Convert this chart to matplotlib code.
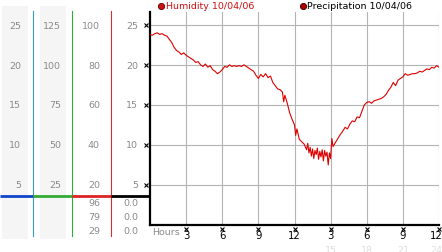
import numpy as np
import matplotlib
matplotlib.use("Agg")
import matplotlib.pyplot as plt

# humidity trace, 10/04/06 (hours since start, value on the 0-25 scale)
hours = [0.0, 0.2, 0.4, 0.6, 0.8, 1.0, 1.2, 1.4, 1.6, 1.8, 2.0, 2.2, 2.4, 2.6, 2.8,
         3.0, 3.2, 3.4, 3.6, 3.8, 4.0, 4.2, 4.4, 4.6, 4.8, 5.0, 5.2, 5.4, 5.6, 5.8,
         6.0, 6.2, 6.4, 6.6, 6.8, 7.0, 7.2, 7.4, 7.6, 7.8, 8.0, 8.2, 8.4, 8.6, 8.8,
         9.0, 9.2, 9.4, 9.6, 9.8, 10.0, 10.2, 10.4, 10.6, 10.8, 11.0, 11.1, 11.2, 11.4,
         11.6, 11.8, 12.0, 12.1, 12.2, 12.4, 12.6, 12.8, 13.0, 13.1, 13.2, 13.3, 13.4,
         13.5, 13.6, 13.7, 13.8, 13.9, 14.0, 14.1, 14.2, 14.3, 14.4, 14.5, 14.6, 14.7,
         14.8, 14.9, 15.0, 15.1, 15.2, 15.4, 15.6, 15.8, 16.0, 16.2, 16.4, 16.6, 16.8,
         17.0, 17.2, 17.4, 17.6, 17.8, 18.0, 18.2, 18.4, 18.6, 18.8, 19.0, 19.2, 19.4,
         19.6, 19.8, 20.0, 20.2, 20.4, 20.6, 20.8, 21.0, 21.2, 21.4, 21.6, 21.8, 22.0,
         22.2, 22.4, 22.6, 22.8, 23.0, 23.2, 23.4, 23.6, 23.8, 24.0]
humidity = [23.8, 23.7, 23.9, 24.0, 23.8, 23.9, 23.7, 23.6, 23.2, 22.8, 22.2, 21.8, 21.6, 21.3, 21.5,
            21.2, 21.0, 20.8, 20.6, 20.3, 20.4, 20.0, 19.8, 20.1, 19.7, 19.9, 19.4, 19.2, 18.9, 19.1,
            19.4, 19.8, 19.7, 20.0, 19.8, 19.9, 19.8, 19.9, 19.8, 20.0, 19.8, 19.6, 19.4, 19.2, 18.7,
            18.3, 18.8, 18.5, 18.9, 18.4, 18.6, 17.8, 17.4, 17.0, 16.9, 16.6, 15.4, 16.2, 15.2,
            14.0, 13.2, 12.5, 11.2, 12.0, 10.7, 10.4, 10.1, 9.4, 10.2, 9.0, 9.7, 8.6,
            9.5, 8.3, 9.3, 8.8, 9.6, 8.2, 9.2, 8.5, 9.4, 8.0, 9.3, 8.6, 9.1,
            7.5, 9.0, 8.3, 10.8, 9.8, 10.3, 10.8, 11.3, 11.7, 12.2, 12.0, 12.6, 13.0,
            12.9, 13.5, 13.4, 14.2, 15.0, 15.3, 15.4, 15.2, 15.5, 15.6, 15.7, 15.8, 16.0,
            16.3, 16.8, 17.2, 17.8, 17.4, 18.1, 18.3, 18.5, 18.9, 18.7, 18.8, 18.9, 18.9,
            19.0, 19.2, 19.1, 19.3, 19.5, 19.4, 19.7, 19.6, 19.9, 19.7]

y_ticks = [5, 10, 15, 20, 25]
col_labels = [["25", "20", "15", "10", "5"],
              ["125", "100", "75", "50", "25"],
              ["100", "80", "60", "40", "20"],
              ["25", "20", "15", "10", "5"]]
col_right = [21, 61, 100, 138]
summary_a = ["96", "79", "29"]
summary_b = ["0.0", "0.0", "0.0"]
x_ticks = [3, 6, 9, 12, 15, 18, 21, 24]
x_labels = ["3", "6", "9", "12", "3", "6", "9", "12"]
x_labels_24 = ["", "", "", "", "15", "18", "21", "24"]

W, H = 442, 253
fig = plt.figure(figsize=(W / 100, H / 100), dpi=100)
fig.patch.set_facecolor("white")

# background layer in pixel coordinates for the side panels
bg = fig.add_axes([0, 0, 1, 1])
bg.set_xlim(0, W)
bg.set_ylim(H, 0)
bg.axis("off")

def ypix(v):
    return 226 - 8.0 * v

bg.axvspan(2, 28, ymin=(H - 240) / H, ymax=(H - 7) / H, color="#f5f5f5", lw=0)
bg.axvspan(40, 66, ymin=(H - 240) / H, ymax=(H - 7) / H, color="#f5f5f5", lw=0)
for xv, c in [(33, "#3399cc"), (72, "#33aa33"), (111, "#cc3333")]:
    bg.plot([xv, xv], [12, 237], color=c, lw=0.8)
for x0, x1, c in [(0, 33, "#1144cc"), (33, 72, "#33aa33"), (72, 111, "#dd2222"), (111, 150, "black")]:
    bg.plot([x0, x1], [197.3, 197.3], color=c, lw=2, solid_capstyle="butt")

fs = 6.8
for labels, xr in zip(col_labels, col_right):
    for v, lab in zip(y_ticks[::-1], labels):
        bg.text(xr, ypix(v), lab, ha="right", va="center", fontsize=fs, color="#8a8a8a")
for i, (a, b) in enumerate(zip(summary_a, summary_b)):
    bg.text(100, 204 + 14 * i, a, ha="right", va="center", fontsize=fs, color="#8a8a8a")
    bg.text(138, 204 + 14 * i, b, ha="right", va="center", fontsize=fs, color="#8a8a8a")

# legend
bg.plot([161], [6.5], "o", ms=4.5, mfc="#cc1111", mec="#660000", mew=0.6)
bg.text(166, 6.5, "Humidity 10/04/06", ha="left", va="center", fontsize=fs, color="#cc1111")
bg.plot([303], [6.5], "o", ms=4.5, mfc="#aa0000", mec="#440000", mew=0.6)
bg.text(307, 6.5, "Precipitation 10/04/06", ha="left", va="center", fontsize=fs, color="black")

# main chart
ax = fig.add_axes([150 / W, (H - 226) / H, 289 / W, 213 / H])
ax.set_xlim(0, 24)
ax.set_ylim(0, 26.6)
ax.set_facecolor("none")
for v in y_ticks:
    ax.axhline(v, color="#b4b4b4", lw=0.8, zorder=1)
for v in x_ticks:
    ax.axvline(v, color="#b4b4b4", lw=0.8, zorder=1)
ax.plot(hours, humidity, color="#dd0000", lw=0.8, zorder=3)
ax.spines["top"].set_visible(False)
ax.spines["right"].set_visible(False)
ax.spines["left"].set_linewidth(1.6)
ax.spines["bottom"].set_linewidth(1.6)
ax.set_xticks([])
ax.set_yticks([])

# tick markers
ax.plot([-0.33] * len(y_ticks), y_ticks, "x", color="black", ms=2.5, mew=0.8, clip_on=False)
ax.plot(x_ticks, [-0.45] * len(x_ticks), "x", color="black", ms=2.5, mew=0.8, clip_on=False)
for xv, lab, lab2 in zip(x_ticks, x_labels, x_labels_24):
    xt = min(xv, 23.75)
    ax.text(xt, -1.3, lab, ha="center", va="center", fontsize=fs + 0.5, color="black", clip_on=False)
    ax.text(xt, -3.0, lab2, ha="center", va="center", fontsize=fs, color="#dddddd", clip_on=False)
ax.text(0.2, -0.75, "Hours", ha="left", va="center", fontsize=fs, color="#8a8a8a", clip_on=False)

fig.savefig("out.png", dpi=100)
